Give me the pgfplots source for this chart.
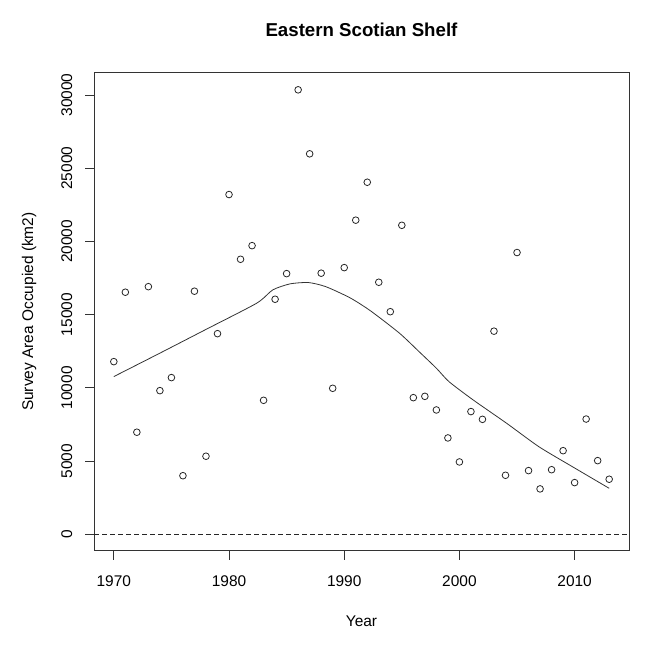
\documentclass[border=0pt]{standalone}
\usepackage{fontspec}
\setmainfont{Liberation Sans}
\usepackage{pgfplots}
\pgfplotsset{compat=1.18}

% scatter: survey area occupied per year
\pgfplotstableread{
year area
1970 11790
1971 16530
1972 6970
1973 16910
1974 9810
1975 10700
1976 4000
1977 16600
1978 5330
1979 13700
1980 23200
1981 18780
1982 19710
1983 9150
1984 16050
1985 17800
1986 30350
1987 25980
1988 17830
1989 9970
1990 18210
1991 21450
1992 24040
1993 17210
1994 15200
1995 21100
1996 9330
1997 9420
1998 8490
1999 6580
2000 4940
2001 8380
2002 7850
2003 13870
2004 4030
2005 19240
2006 4350
2007 3100
2008 4410
2009 5710
2010 3530
2011 7870
2012 5030
2013 3760
}\areatable

% smoother
\pgfplotstableread{
year fit
1970 10770
1974 12370
1978 13990
1982.4 15780
1983.8 16690
1985.3 17100
1986.9 17190
1988.4 16910
1990.5 16150
1992.3 15250
1994.8 13730
1996.5 12470
1998 11340
1999.1 10420
2001.2 9170
2004.1 7580
2006.9 5980
2009.8 4620
2013 3140
}\fittable

\begin{document}
\begin{tikzpicture}[x=0.75pt,y=0.75pt]
\useasboundingbox (0,0) rectangle (650,650);
\begin{axis}[
	name=ax,
	at={(70.5pt,74.475pt)},
	anchor=south west,
	scale only axis,
	width=401.25pt,
	height=358.5pt,
	xmin=1968.28, xmax=2014.72,
	ymin=-1120, ymax=31520,
	xtick={1970,1980,...,2010},
	ytick={0,5000,...,30000},
	scaled y ticks=false,
	/pgf/number format/1000 sep={},
	/pgf/number format/assume math mode=true,
	tick align=outside,
	xtick pos=left,
	ytick pos=left,
	major tick length=6.75pt,
	axis line style={black!80, line width=0.6pt},
	tick style={black!80, line width=0.6pt},
	tick label style={font=\fontsize{11.6}{14}\selectfont},
	xticklabel style={anchor=north, inner sep=0pt, yshift=-12pt},
	yticklabel style={rotate=90, anchor=base, inner sep=0pt, yshift=9.75pt},
	label style={font=\fontsize{11.6}{14}\selectfont, inner sep=0pt},
	xlabel={Year},
	xlabel style={at={(axis description cs:0.5,-0.159)}, anchor=base},
	ylabel={Survey Area Occupied (km2)},
	ylabel style={at={(axis description cs:-0.114,0.5)}, anchor=base, rotate=0},
	title={Eastern Scotian Shelf},
	title style={at={(axis description cs:0.5,1.060)}, anchor=base, inner sep=0pt,
		font=\fontsize{14}{17}\selectfont\bfseries},
]
	% zero line
	\addplot[black!85, line width=0.6pt, dash pattern=on 3.5pt off 2.5pt] coordinates {
		(1968.28,0) (2014.72,0)};

	% points
	\addplot[only marks, mark=o, mark size=2.5pt, mark options={black!85, line width=0.6pt}]
		table[x=year, y=area] {\areatable};

	% smooth curve
	\addplot[black!80, line width=0.6pt, smooth, tension=0.4, no marks]
		table[x=year, y=fit] {\fittable};
\end{axis}
\end{tikzpicture}
\end{document}
